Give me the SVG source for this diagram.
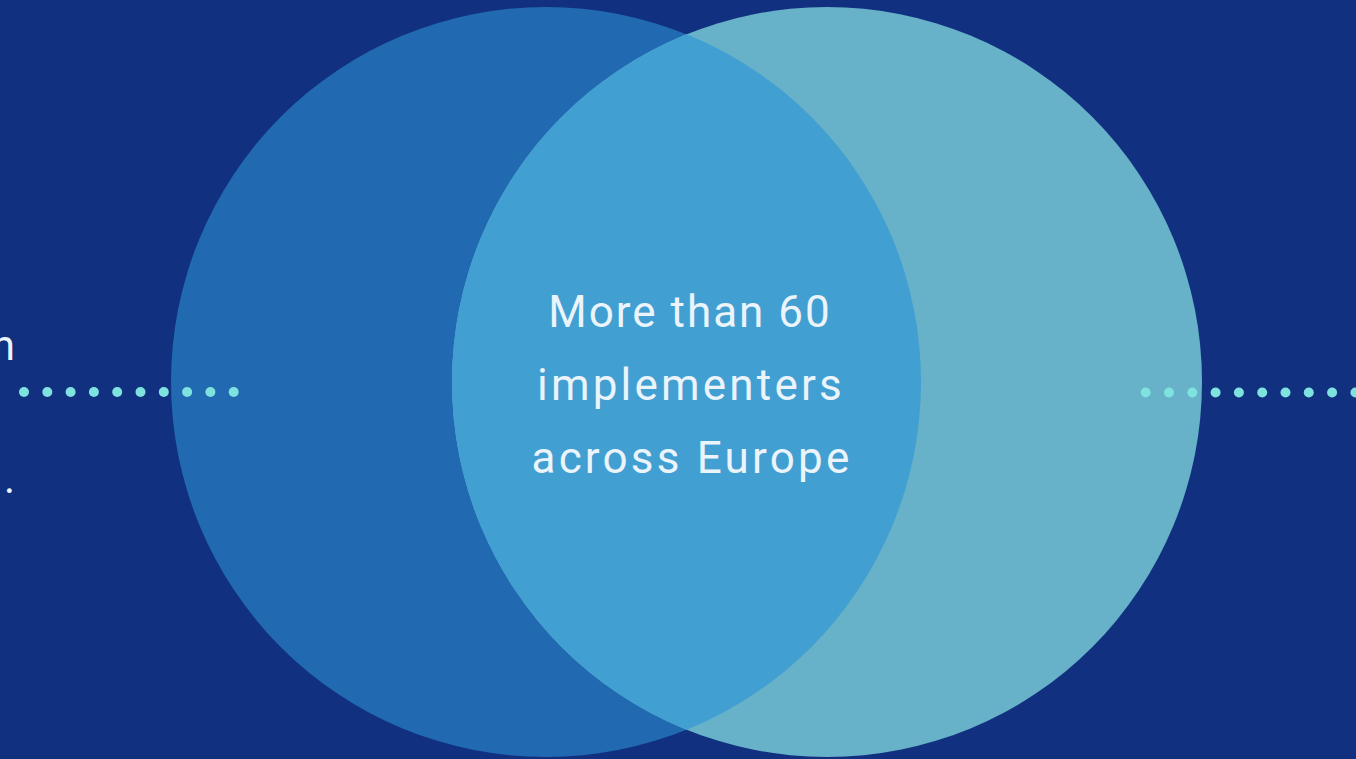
<svg xmlns="http://www.w3.org/2000/svg" width="1356" height="759" viewBox="0 0 1356 759">
<style>
.t{font-family:Roboto,"Liberation Sans",sans-serif;font-size:44px;fill:#EAF4FA;letter-spacing:2px;text-anchor:middle}
.w{letter-spacing:3.2px}
.side{font-family:Roboto,"Liberation Sans",sans-serif;font-size:42px;fill:#EAF4FA;text-anchor:end}
.dot{fill:#7EE2DE}
</style>
<defs>
<clipPath id="clipL"><circle cx="546" cy="382" r="375"/></clipPath>
</defs>
<rect width="1356" height="759" fill="#11307F"/>
<g id="circle-left"><circle cx="546" cy="382" r="375" fill="#216AB1"/></g>
<g id="circle-right"><circle cx="827" cy="382" r="375" fill="#67B1C9"/></g>
<g id="intersection">
<circle cx="827" cy="382" r="375" fill="#429FD2" clip-path="url(#clipL)"/>
<text class="t" x="690" y="327">More than 60</text>
<text class="t w" x="691" y="400">implementers</text>
<text class="t w" x="692" y="473">across Europe</text>
</g>
<g id="left-text">
<text class="side" x="15" y="360">n</text>
<text class="side" x="15" y="493">.</text>
</g>
<g id="connectors">
<g id="dots-left" class="dot">
<circle cx="24" cy="392" r="5"/><circle cx="47.3" cy="392" r="5"/><circle cx="70.6" cy="392" r="5"/><circle cx="93.9" cy="392" r="5"/><circle cx="117.2" cy="392" r="5"/><circle cx="140.5" cy="392" r="5"/><circle cx="163.8" cy="392" r="5"/><circle cx="187.1" cy="392" r="5"/><circle cx="210.4" cy="392" r="5"/><circle cx="233.7" cy="392" r="5"/>
</g>
<g id="dots-right" class="dot">
<circle cx="1145.7" cy="392.5" r="5"/><circle cx="1169" cy="392.5" r="5"/><circle cx="1192.3" cy="392.5" r="5"/><circle cx="1215.6" cy="392.5" r="5"/><circle cx="1238.9" cy="392.5" r="5"/><circle cx="1262.2" cy="392.5" r="5"/><circle cx="1285.5" cy="392.5" r="5"/><circle cx="1308.8" cy="392.5" r="5"/><circle cx="1332.1" cy="392.5" r="5"/><circle cx="1355.4" cy="392.5" r="5"/>
</g>
</g>
</svg>
